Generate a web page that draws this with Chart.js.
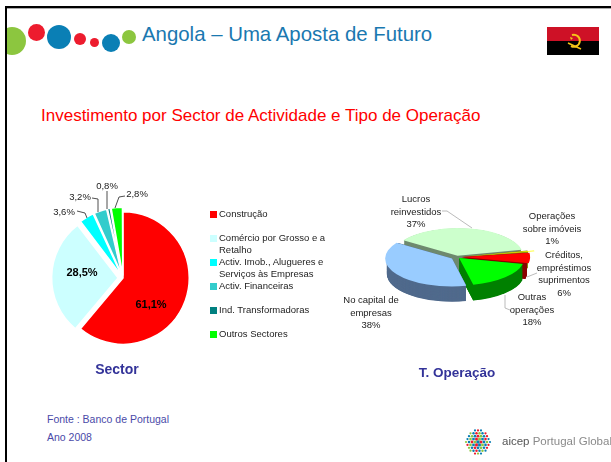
<!DOCTYPE html>
<html lang="pt">
<head>
<meta charset="utf-8">
<title>Angola – Uma Aposta de Futuro</title>
<script src="https://cdn.jsdelivr.net/npm/chart.js@4"></script>
<style>
  html, body { margin: 0; padding: 0; background: #fff; }
  body { width: 611px; height: 462px; position: relative; overflow: hidden; font-family: "Liberation Sans", Arial, sans-serif; }
  .frame { position: absolute; left: 5px; top: 6px; width: 640px; height: 500px; border-left: 2.5px solid #000; border-top: 2px solid #000; box-shadow: 0 1px 0 #aaa inset; z-index: 1; }
  .bubble { position: absolute; border-radius: 50%; }
  .abs { position: absolute; white-space: nowrap; }
  .center { transform: translateX(-50%); text-align: center; }
  .lbl { font-size: 9.5px; line-height: 12.5px; color: #222; }
  .head { font-weight: bold; font-size: 14px; color: #333399; }
  .src { font-size: 10.5px; color: #4a4aa8; }
  canvas { position: absolute; }
  svg { position: absolute; left: 0; top: 0; }
  #legend { position: absolute; left: 210px; top: 208px; width: 118px; margin: 0; padding: 0; list-style: none; }
  #legend li { height: 24px; font-size: 9.5px; line-height: 12px; color: #222; padding-left: 9px; position: relative; }
  #legend i { position: absolute; left: 0; top: 3px; width: 7px; height: 7px; }
</style>
</head>
<body>
<div class="frame"></div>

<div class="bubble" style="left:-2px;top:27px;width:28px;height:28px;background:#8cc63f;clip-path:inset(0 0 0 9px)"></div>
<div class="bubble" style="left:28px;top:24px;width:17px;height:17px;background:#ed1c2e"></div>
<div class="bubble" style="left:47px;top:25px;width:24px;height:24px;background:#0a7fb5"></div>
<div class="bubble" style="left:74px;top:33px;width:12px;height:12px;background:#ed1c2e"></div>
<div class="bubble" style="left:90px;top:38px;width:9px;height:9px;background:#ed1c2e"></div>
<div class="bubble" style="left:102px;top:34px;width:18px;height:18px;background:#0a7fb5"></div>
<div class="bubble" style="left:122px;top:30px;width:14px;height:14px;background:#8cc63f"></div>

<div class="abs" style="left:142px;top:23px;font-size:20.4px;color:#1a78b0">Angola – Uma Aposta de Futuro</div>
<div class="abs" style="left:41px;top:106px;font-size:17px;color:#ff0000">Investimento por Sector de Actividade e Tipo de Operação</div>

<div class="abs" style="left:547px;top:27px;width:52px;height:14px;background:#ce1126"></div>
<div class="abs" style="left:547px;top:41px;width:52px;height:14px;background:#000"></div>
<svg width="611" height="462" style="z-index:1">
  <path d="M572 35 a6 6 0 1 1 -1 11" fill="none" stroke="#f5c518" stroke-width="2"/>
  <path d="M568 43 L581 49" stroke="#f5c518" stroke-width="1.5"/>
  <path d="M570 37 l3 1 l-2 2z" fill="#f5c518"/>
</svg>

<canvas id="sectorChart" width="180" height="180" style="left:33px;top:188px"></canvas>
<canvas id="operacaoChart" width="200" height="200" style="left:357px;top:157px"></canvas>

<!-- leader lines -->
<svg width="611" height="462" style="z-index:2">
  <g fill="none" stroke="#222" stroke-width="0.8">
    <polyline points="77,211 85,213 87,218"/>
    <polyline points="92,198 98,199 98,212"/>
    <polyline points="107,191 107,209"/>
    <polyline points="125,196 119,197 115,208"/>
  </g>
  <g fill="none" stroke="#aaa" stroke-width="0.8">
    <polyline points="442,211 447,211 472,228"/>
    <polyline points="505,295 505,308 510,310"/>
    <polyline points="537,273 527,277"/>
  </g>
</svg>

<div id="sectorLabels"></div>
<ul id="legend"></ul>
<div id="operacaoLabels"></div>

<div class="abs center head" style="left:117px;top:361px">Sector</div>
<div class="abs center head" style="left:457px;top:365px;font-size:13.5px">T. Operação</div>

<div class="abs src" style="left:47px;top:413px">Fonte : Banco de Portugal</div>
<div class="abs src" style="left:47px;top:431px">Ano 2008</div>

<svg id="aicepLogo" width="611" height="462"></svg>
<div class="abs" style="left:502px;top:435px;font-size:11.5px;color:#8a8a8a"><span style="color:#555">aicep</span> Portugal Global</div>

<script>
// Sector pie
const sectorCategories = ['Construção', 'Comércio por Grosso e a Retalho', 'Activ. Imob., Alugueres e Serviços às Empresas', 'Activ. Financeiras', 'Ind. Transformadoras', 'Outros Sectores'];
const sectorValues = [61.1, 28.5, 3.6, 3.2, 0.8, 2.8];

// Operation type pie
const operacaoCategories = ['Lucros reinvestidos', 'Operações sobre imóveis', 'Créditos, empréstimos suprimentos', 'Outras operações', 'No capital de empresas'];
const operacaoValues = [37, 1, 6, 18, 38];

const sectorColors = ['#ff0000', '#ccffff', '#00ffff', '#33cccc', '#008080', '#00ff00'];
const operacaoColors = ['#ccffcc', '#ffff00', '#ff0000', '#00ff00', '#99ccff'];
const operacaoWalls = ['#6f8a6f', '#8a8a10', '#8a0000', '#008000', '#506a8c'];

const TILT = 0.42;
const DEPTH = 16;

// flattens the pie into an ellipse and extrudes the side walls
const tiltPlugin = {
  id: 'tilt',
  beforeDatasetsDraw(chart) {
    const ctx = chart.ctx;
    const arcs = chart.getDatasetMeta(0).data;
    const cx = (chart.chartArea.left + chart.chartArea.right) / 2;
    const cy = (chart.chartArea.top + chart.chartArea.bottom) / 2;
    ctx.save();
    ctx.translate(cx, cy);
    ctx.scale(1, TILT);
    ctx.translate(-cx, -cy);
    arcs.forEach((arc, i) => {
      const mid = (arc.startAngle + arc.endAngle) / 2;
      const off = arc.options.offset / 4; // the arc element moves by a quarter of its offset option
      const x = arc.x + Math.cos(mid) * off;
      const y = arc.y + Math.sin(mid) * off;
      ctx.fillStyle = operacaoWalls[i];
      for (let k = DEPTH / TILT; k > 0; k -= 1) {
        ctx.beginPath();
        ctx.moveTo(x, y + k);
        ctx.arc(x, y + k, arc.outerRadius, arc.startAngle, arc.endAngle);
        ctx.closePath();
        ctx.fill();
      }
    });
  },
  afterDatasetsDraw(chart) {
    chart.ctx.restore();
  }
};

const baseOptions = {
  responsive: false,
  animation: false,
  plugins: { legend: { display: false }, tooltip: { enabled: false } }
};

new Chart(document.getElementById('sectorChart'), {
  type: 'pie',
  data: {
    labels: sectorCategories,
    datasets: [{
      data: sectorValues,
      backgroundColor: sectorColors,
      borderColor: '#ffffff',
      borderWidth: 1.5,
      offset: [0, 20, 10, 10, 10, 10]
    }]
  },
  options: { ...baseOptions, layout: { padding: 13 } }
});

new Chart(document.getElementById('operacaoChart'), {
  type: 'pie',
  data: {
    labels: operacaoCategories,
    datasets: [{
      data: operacaoValues,
      backgroundColor: operacaoColors,
      borderWidth: 0,
      offset: [12, 28, 20, 12, 24]
    }]
  },
  options: { ...baseOptions, rotation: -55.7, layout: { padding: 21 } },
  plugins: [tiltPlugin]
});

function addLabel(parent, x, y, html, extra) {
  const el = document.createElement('div');
  el.className = 'abs center lbl';
  el.style.cssText = `left:${x}px;top:${y}px;z-index:3;${extra || ''}`;
  el.innerHTML = html;
  parent.appendChild(el);
}

const pct1 = v => v.toFixed(1).replace('.', ',') + '%';

// sector value labels
const sectorBox = document.getElementById('sectorLabels');
const sectorSpots = [[151, 298, 'font-weight:bold;font-size:11px;color:#000'], [82, 266, 'font-weight:bold;font-size:11px;color:#000'], [64, 206], [80, 191], [107, 180], [137, 188]];
sectorValues.forEach((v, i) => addLabel(sectorBox, sectorSpots[i][0], sectorSpots[i][1], pct1(v), sectorSpots[i][2]));

// legend
document.getElementById('legend').innerHTML = sectorCategories.map((c, i) =>
  `<li><i style="background:${sectorColors[i]}"></i>${c}</li>`).join('');

// operation labels
const operacaoBox = document.getElementById('operacaoLabels');
const operacaoLines = [['Lucros', 'reinvestidos'], ['Operações', 'sobre imóveis'], ['Créditos,', 'empréstimos', 'suprimentos'], ['Outras', 'operações'], ['No capital de', 'empresas']];
const operacaoSpots = [[416, 193], [552, 210], [564, 249], [532, 291], [371, 294]];
operacaoValues.forEach((v, i) => addLabel(operacaoBox, operacaoSpots[i][0], operacaoSpots[i][1], [...operacaoLines[i], v + '%'].join('<br>')));

// aicep dot ball
const dotColors = ['#0a7fb5', '#ed1c2e', '#0a7fb5', '#8cc63f', '#0a7fb5', '#ed1c2e', '#8cc63f'];
let dots = '', n = 0;
for (let r = -4; r <= 4; r++) {
  for (let c = -4; c <= 4; c++) {
    const dx = c * 3 + (r % 2 ? 1.5 : 0), dy = r * 2.9;
    if (dx * dx + dy * dy > 150) continue;
    const size = 1.7 - Math.hypot(dx, dy) * 0.05;
    dots += `<circle cx="${478 + dx}" cy="${442 + dy}" r="${size}" fill="${dotColors[n++ % dotColors.length]}"/>`;
  }
}
document.getElementById('aicepLogo').innerHTML = dots;
</script>
</body>
</html>
